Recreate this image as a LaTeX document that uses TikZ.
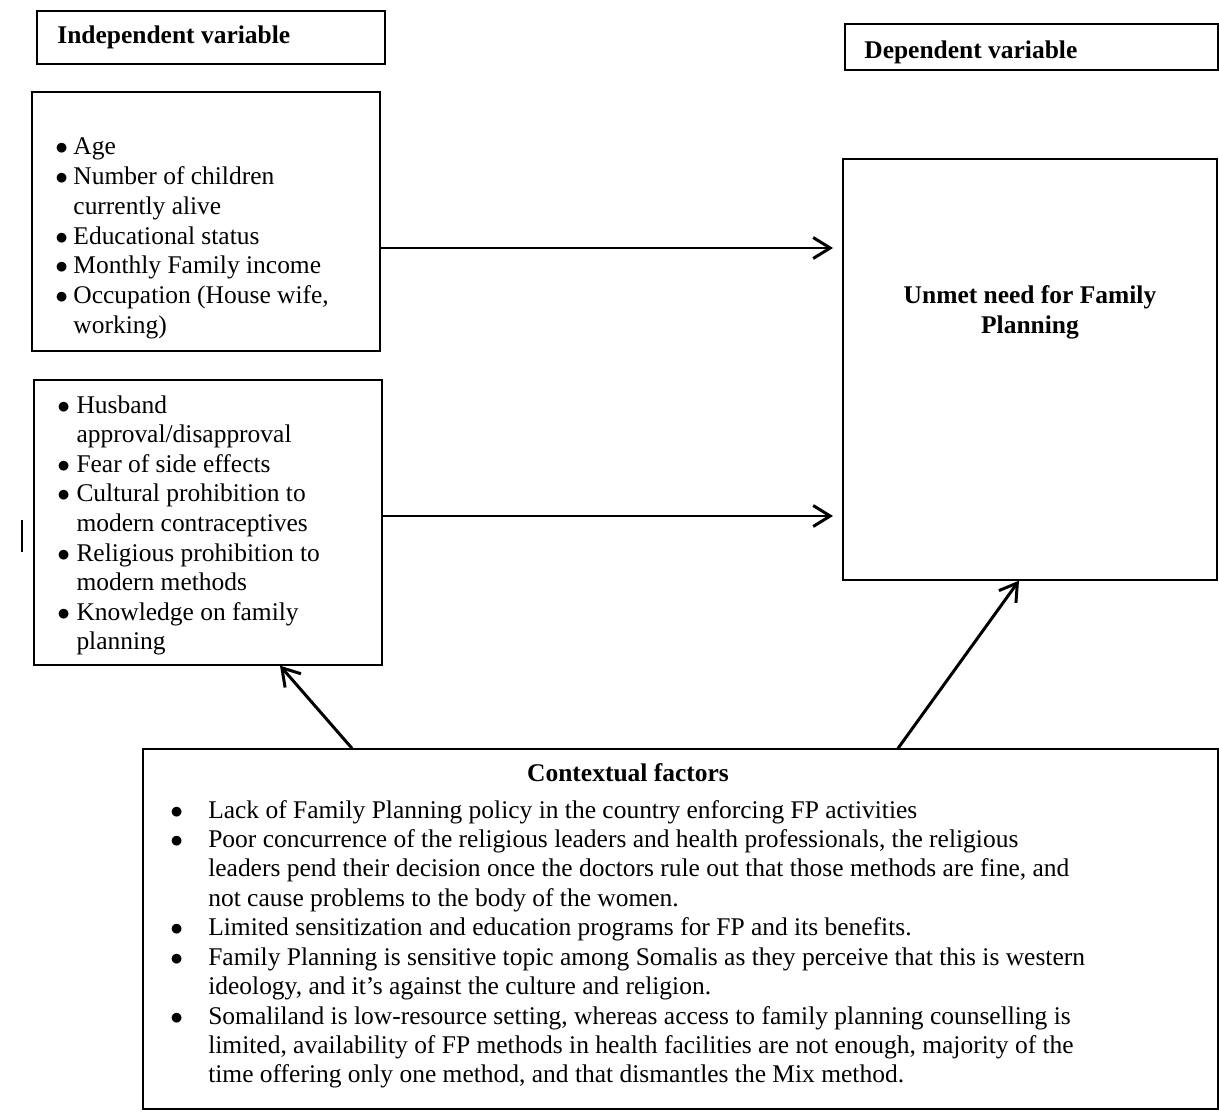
\documentclass[tikz,border=0pt]{standalone}
\usepackage{fontspec}
\setmainfont{Liberation Serif}
\usetikzlibrary{arrows.meta,positioning}

\newcommand{\bul}{$\bullet$}

\tikzset{
  box/.style={draw, line width=0.8pt, inner sep=0pt},
  lst/.style={inner sep=0pt, anchor=base west, align=left},
  hdr/.style={inner sep=0pt, font=\fontsize{14.5}{17}\selectfont\bfseries},
  arr/.style={-{Straight Barb[length=3.4mm,width=4.2mm]}, line width=1.7pt},
}

\begin{document}
\begin{tikzpicture}[x=0.02cm, y=-0.02cm]
    \useasboundingbox (0,0) rectangle (1219,1111);

    % Variable headings
    \node[box, minimum width=6.96cm, minimum height=1.06cm] (indep) at (211,37.5) {};
    \node[hdr, anchor=base west] at (57,44) {Independent variable};
    \node[box, minimum width=7.46cm, minimum height=0.92cm] (dep) at (1031.5,47) {};
    \node[hdr, anchor=base west] at (864,59) {Dependent variable};

    % Socio-demographic factors
    \node[box, minimum width=6.96cm, minimum height=5.18cm] (socio) at (206,221.5) {};
    \node[lst] at (55,155) {\fontsize{14.5}{16.9}\selectfont
      \begin{tabular}[t]{@{}p{10.3pt}@{}l@{}}
        \bul & Age\\
        \bul & Number of children\\
             & currently alive\\
        \bul & Educational status\\
        \bul & Monthly Family income\\
        \bul & Occupation (House wife,\\
             & working)
      \end{tabular}};

    % Other factors
    \node[box, minimum width=6.96cm, minimum height=5.70cm] (other) at (208,522.5) {};
    \node[lst] at (57,413) {\fontsize{14.5}{16.85}\selectfont
      \begin{tabular}[t]{@{}p{10.9pt}@{}l@{}}
        \bul & Husband\\
             & approval/disapproval\\
        \bul & Fear of side effects\\
        \bul & Cultural prohibition to\\
             & modern contraceptives\\
        \bul & Religious prohibition to\\
             & modern methods\\
        \bul & Knowledge on family\\
             & planning
      \end{tabular}};

    % Outcome
    \node[box, minimum width=7.48cm, minimum height=8.42cm] (unmet) at (1030,369.5) {};
    \node[hdr, align=center] at (1030,312) {Unmet need for Family\\Planning};

    % Contextual factors
    \node[box, minimum width=21.5cm, minimum height=7.2cm] (ctx) at (680.5,929) {};
    \node[hdr, anchor=base] at (628,781) {Contextual factors};
    \node[lst] at (170,818) {\fontsize{14.5}{16.75}\selectfont
      \begin{tabular}[t]{@{}p{21.6pt}@{}l@{}}
        \bul & Lack of Family Planning policy in the country enforcing FP activities\\
        \bul & Poor concurrence of the religious leaders and health professionals, the religious\\
             & leaders pend their decision once the doctors rule out that those methods are fine, and\\
             & not cause problems to the body of the women.\\
        \bul & Limited sensitization and education programs for FP and its benefits.\\
        \bul & Family Planning is sensitive topic among Somalis as they perceive that this is western\\
             & ideology, and it’s against the culture and religion.\\
        \bul & Somaliland is low-resource setting, whereas access to family planning counselling is\\
             & limited, availability of FP methods in health facilities are not enough, majority of the\\
             & time offering only one method, and that dismantles the Mix method.
      \end{tabular}};

    % Arrows
    \coordinate (a1) at (833,248);
    \coordinate (a2) at (833,516);
    \coordinate (c3) at (352,0);
    \coordinate (t3) at (280,0);
    \coordinate (c4) at (898,0);
    \coordinate (t4) at (1019,0);
    \draw[arr] (socio.east |- a1) -- (a1);
    \draw[arr] (other.east |- a2) -- (a2);
    \draw[arr] (ctx.north -| c3) -- (other.south -| t3);
    \draw[arr] (ctx.north -| c4) -- (unmet.south -| t4);

    % stray mark
    \draw[line width=0.8pt] (22,520) -- (22,552);
\end{tikzpicture}
\end{document}
